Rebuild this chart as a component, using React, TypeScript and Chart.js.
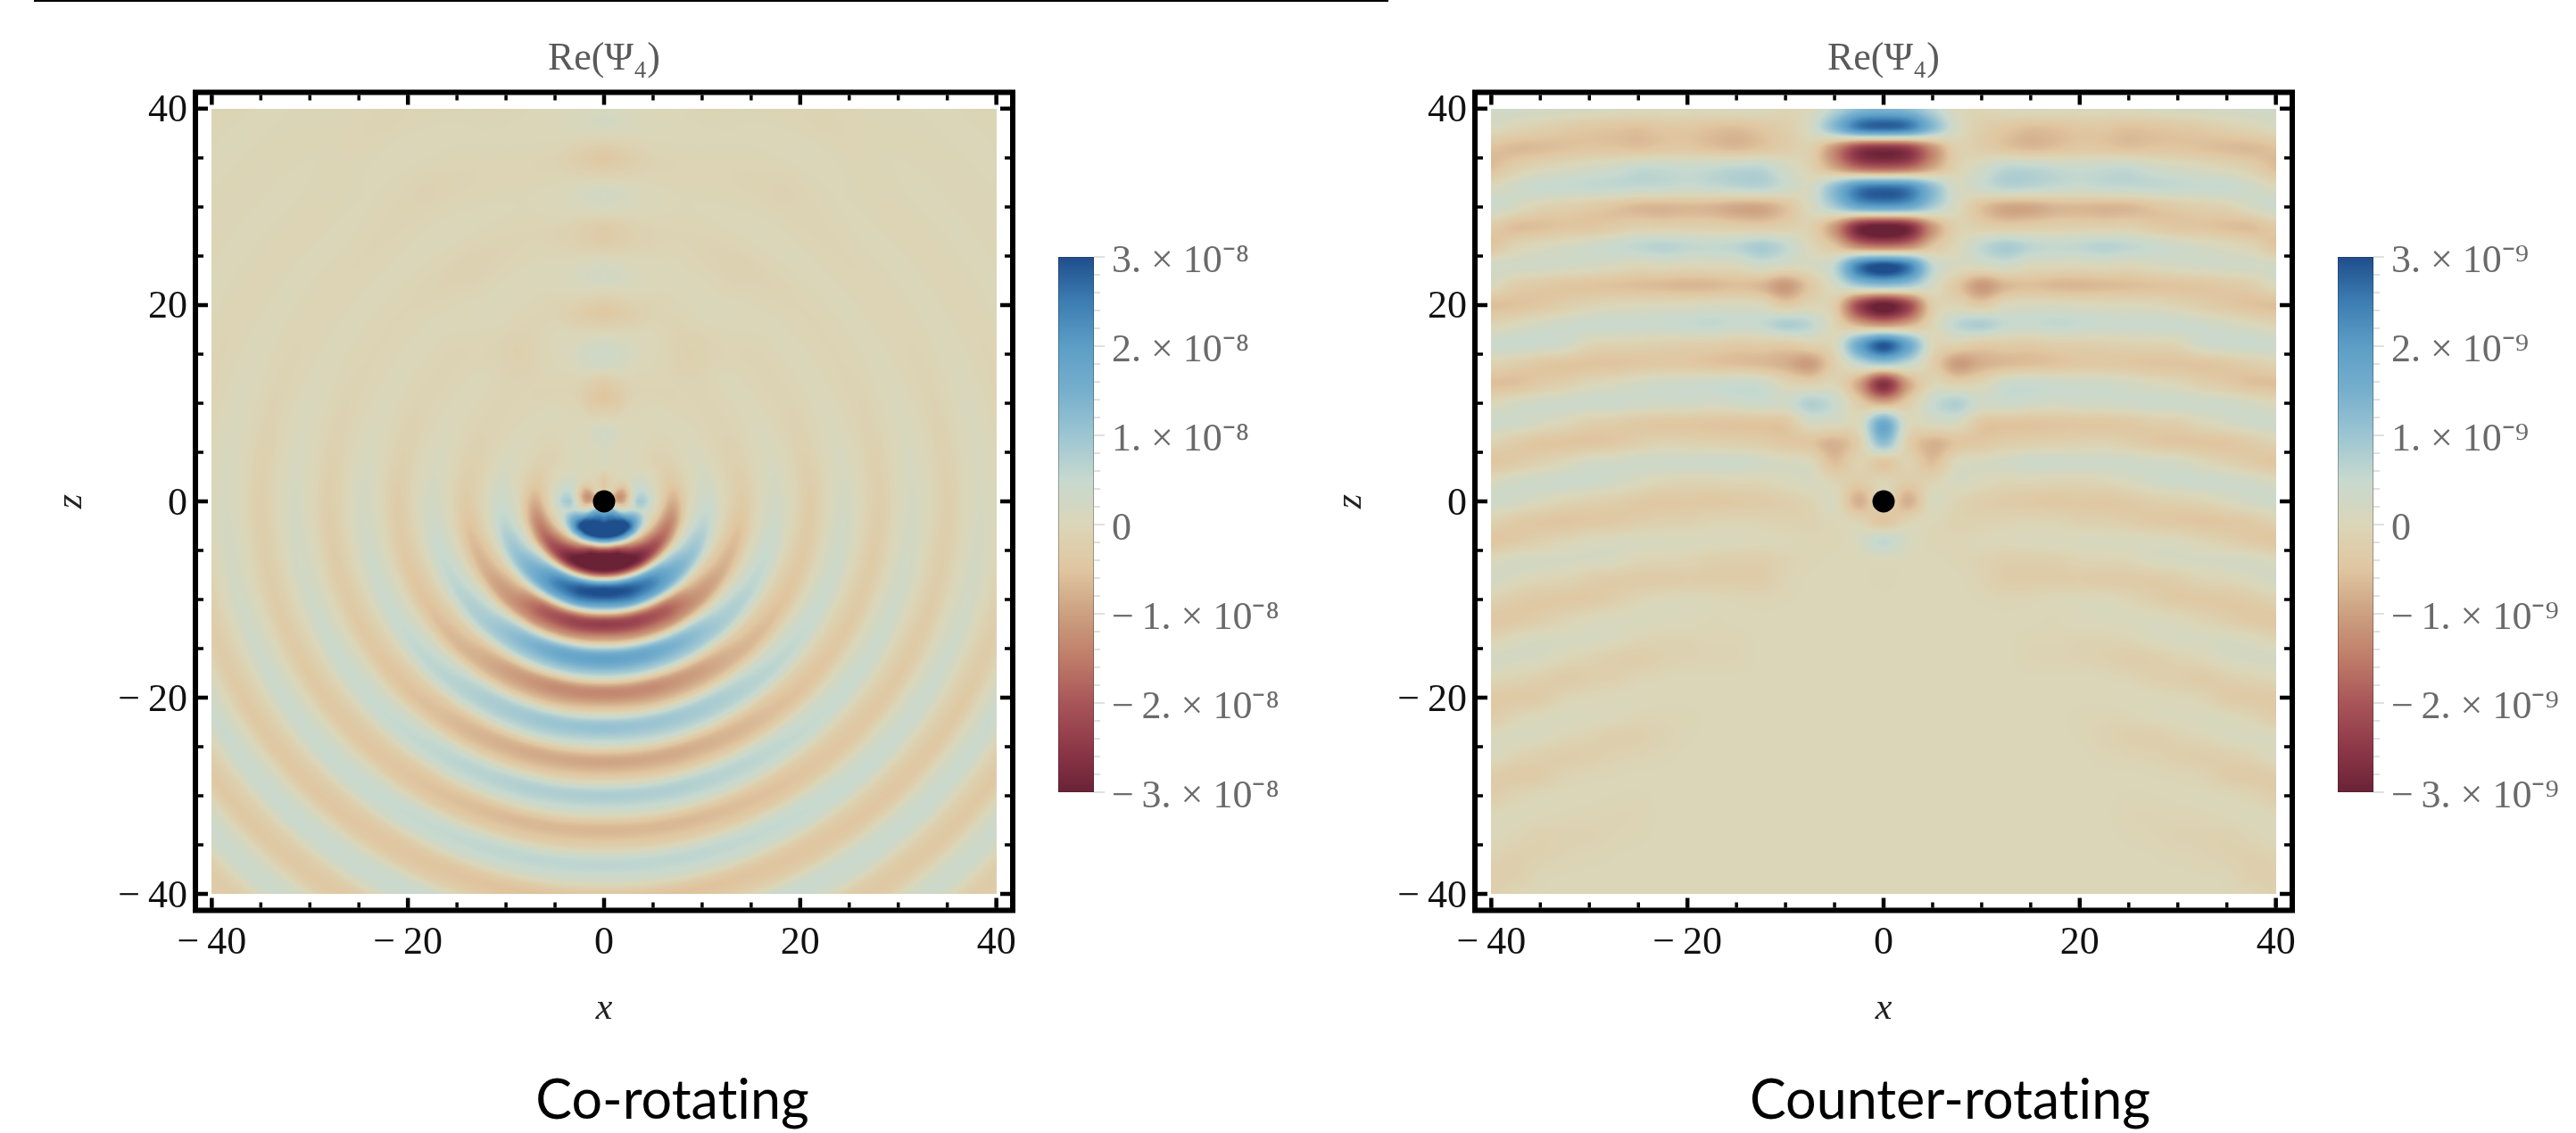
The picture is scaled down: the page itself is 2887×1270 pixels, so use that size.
import React, { useEffect, useRef } from "react";
import { Chart, registerables } from "chart.js";

Chart.register(...registerables);

/* All field values are in hundredths of one colour-bar unit. */
const axisTicks = [-40, -20, 0, 20, 40];
const axisMinorTicks = [-40, -35, -30, -25, -20, -15, -10, -5, 0, 5, 10, 15, 20, 25, 30, 35, 40];
const holePosition = [{ x: 0, y: 0 }];
const barTicks = [-3, -2, -1, 0, 1, 2, 3];
const barMinorTicks = [-2.8, -2.6, -2.4, -2.2, -1.8, -1.6, -1.4, -1.2, -0.8, -0.6, -0.4, -0.2, 0.2, 0.4, 0.6, 0.8, 1.2, 1.4, 1.6, 1.8, 2.2, 2.4, 2.6, 2.8];
const colourValues = [-3, -2.5, -2, -1.5, -1, -0.5, 0, 0.5, 1, 1.5, 2, 2.5, 3];
const colourStops = [[106, 34, 54], [142, 56, 72], [168, 85, 88], [191, 124, 104], [204, 160, 128], [224, 198, 160], [219, 214, 184], [199, 217, 207], [156, 197, 210], [118, 175, 205], [92, 158, 198], [60, 125, 178], [31, 78, 140]];

/* Co-rotating panel: samples along rays from the origin, every 1.75 units of radius. */
const rayStep = 1.75;
const rayAngles = [0, 15, 30, 45, 60, 75, 90, 105, 120, 135, 150, 165, 172, 180];
const ray000 = [0, 250, 320, -280, -300, 280, 190, -230, -100, 180, 90, -130, -55, 105, 50, -90, -40, 80, 35, -68, -30, 60, 28, -55, -25, 50, 22, -45, -20, 40, 18, -38, -16, 34];
const ray015 = [0, 260, 330, -260, -300, 250, 210, -210, -120, 165, 95, -120, -70, 92, 60, -80, -50, 70, 45, -62, -40, 55, 36, -50, -33, 45, 30, -40, -27, 36, 24, -33, -22, 30];
const ray030 = [0, 240, 330, -150, -280, 190, 190, -165, -130, 115, 95, -85, -72, 70, 62, -60, -55, 52, 48, -46, -44, 42, 40, -40, -38, 36, 34, -34, -32, 30, 28, -28, -26, 24];
const ray045 = [0, 180, 300, -70, -220, 95, 145, -65, -108, 50, 82, -38, -68, 35, 60, -30, -52, 28, 47, -26, -43, 25, 43, -25, -43, 25, 41, -24, -39, 22, 36, -20, -34, 18];
const ray060 = [0, 40, 170, -30, -170, 30, 105, -25, -80, 20, 62, -17, -52, 15, 46, -13, -42, 13, 40, -12, -40, 12, 40, -12, -41, 12, 41, -12, -40, 11, 38, -11, -36, 10];
const ray075 = [0, -30, 50, -10, -130, 8, 68, -6, -60, 5, 44, -4, -40, 4, 34, -3, -34, 3, 29, -3, -30, 3, 26, -3, -26, 2, 22, -2, -22, 2, 20, -2, -19, 2];
const ray090 = [0, -100, 90, 10, -80, 0, 38, 0, -34, 0, 24, 0, -32, 0, 21, 0, -26, 0, 18, 0, -23, 0, 15, 0, -19, 0, 14, 0, -15, 0, 11, 0, -11, 0];
const ray105 = [0, -120, 50, 10, -40, -5, 18, -5, -18, -3, 11, -3, -16, -3, 9, -3, -13, -2, 9, -2, -12, -2, 8, -2, -10, -2, 6, -2, -8, -2, 5, -2, -7, -2];
const ray120 = [0, -100, 25, 5, -18, -5, 8, -5, -10, -5, 5, -5, -9, -5, 4, -5, -8, -4, 3, -5, -7, -4, 3, -4, -6, -3, 2, -4, -5, -2, 1, -3, -4, 0];
const ray135 = [0, -40, 5, 0, -10, -5, 3, -5, -8, -6, 2, -5, -9, -5, 3, -4, -8, -4, 2, -5, -8, -3, 2, -5, -6, -2, 2, -4, -5, -2, 2, -3, -4, 0];
const ray150 = [0, -10, 5, 8, 5, 0, 3, -8, -8, -15, -20, -12, 0, 5, -3, -12, -14, -5, 3, -2, -10, -12, -6, 2, 0, -8, -10, -3, 0, -2, -6, -6, -2, 0];
const ray165 = [0, -20, 0, 5, 5, 0, -8, -8, 0, 5, 3, -8, -8, 0, 3, -3, -8, -5, -2, -5, -6, -3, 0, -3, -4, -2, 0];
const ray172 = [0, -30, 5, 10, 20, -10, -35, -15, 18, 18, -5, -25, -6, 10, 3, -12, -12, 2, 5, -4, -10, -3, 2, 0];
const ray180 = [0, -50, 5, 15, 25, -10, -50, -30, 25, 30, -10, -45, -10, 25, 10, -30, -30, 10, 25, -15, -45, -10, 20, 10];
const coRays = [ray000, ray015, ray030, ray045, ray060, ray075, ray090, ray105, ray120, ray135, ray150, ray165, ray172, ray180];

/* Counter-rotating panel: one list per x column, z from 40 down in steps of 2; the rest of each list is neutral. */
const columnStepX = 2.5;
const rowStepZ = 2;
const col00 = [140, 270, -260, -190, 260, 190, -310, -160, 310, 115, -310, -115, 290, 85, -265, -80, 165, 120, -45, -5, 0, -50, 55, 5, -3];
const col02 = [125, 245, -235, -170, 235, 170, -275, -135, 250, 90, -225, -80, 175, 50, -95, -30, 10, -25, -15, -30, -80, -10, 15];
const col05 = [65, 125, -120, -90, 120, 85, -110, -50, 60, 22, -30, -8, 5, -25, -5, 45, 15, -75, -60, -10, 10, 0, -5];
const col07 = [8, 20, -20, -15, 20, 12, -20, 0, 15, -45, -10, 60, -15, -105, -20, 75, 15, -50, 5, 15, -10, -15, -5, -5];
const col10 = [-5, -25, -30, 25, 40, -55, -25, 55, 15, -110, -35, 80, -35, -80, -5, 30, -45, -45, 15, 5, -25, -15, 0, -12, -10, -3];
const col12 = [10, -45, -50, 60, 65, -90, -35, 85, 30, -70, 5, 50, -30, -65, 38, 38, -50, -30, 25, -5, -33, -10, 3, -25, -30, -8];
const col15 = [15, -60, -65, 60, 60, -90, -30, 62, 5, -58, 12, 45, -35, -58, 45, 30, -52, -25, 36, -5, -38, -8, 8, -25, -30, -5, 0, -6, -8];
const col17 = [10, -55, -55, 50, 50, -72, -25, 52, 2, -68, 12, 55, -25, -52, 40, 22, -50, -22, 36, -8, -43, -10, 8, -22, -32, 0, -2, -6, -10];
const col20 = [10, -45, -42, 42, 42, -68, -22, 58, 0, -70, 8, 48, -22, -42, 34, 28, -45, -18, 34, -8, -40, -20, 10, -10, -30, 3, 5, -10, -12, 0, 0, -4, -3];
const col22 = [10, -45, -45, 48, 50, -72, -25, 68, 5, -65, 6, 44, -20, -42, 32, 28, -45, -14, 34, -4, -43, -22, 10, -8, -35, 3, 8, -10, -18, -2, 0, -7, -12, -5];
const col25 = [10, -55, -55, 50, 52, -68, -20, 58, -2, -60, 4, 42, -15, -45, 22, 32, -40, -26, 32, 10, -38, -30, 12, -5, -35, -8, 10, -6, -28, -8, 4, -7, -22, -10, 0, -3, -7, -4];
const col27 = [15, -50, -50, 30, 55, -50, -38, 45, 10, -55, 0, 42, -12, -52, 8, 38, -28, -42, 26, 26, -25, -40, 10, 12, -35, -25, 8, 8, -24, -20, 3, 3, -24, -14, -2, -2, -8, -8, -2];
const col30 = [20, -45, -48, 20, 52, -35, -48, 30, 20, -52, -12, 42, -5, -52, -2, 38, -22, -50, 22, 35, -18, -45, 5, 15, -26, -38, 2, 14, -12, -26, -2, 7, -14, -24, -5, 0, -6, -12, -6];
const col32 = [25, -35, -55, 8, 48, -22, -50, 18, 25, -48, -28, 34, 30, -50, -24, 36, 0, -50, 0, 38, -8, -50, -8, 18, -10, -40, -12, 14, -2, -33, -10, 10, -5, -28, -12, 2, -4, -14, -10, -2];
const col35 = [28, -20, -63, -5, 48, -12, -58, 5, 28, -38, -44, 22, 40, -42, -38, 32, 16, -48, -18, 36, 8, -45, -22, 20, -5, -40, -28, 14, 14, -22, -33, 5, 8, -22, -30, -2, 0, -16, -17, -5, -2];
const col37 = [30, -8, -65, -25, 30, 18, -60, -10, 26, -26, -54, 6, 44, -26, -56, 18, 32, -32, -36, 28, 25, -35, -38, 20, 8, -30, -42, 6, 18, -10, -38, -8, 12, -12, -36, -10, 3, -5, -20, -22, -8];
const col40 = [32, 10, -55, -60, 5, 40, -35, -50, 25, 8, -58, -10, 40, -12, -58, 0, 36, -12, -48, 10, 34, -15, -48, 5, 22, -15, -45, -12, 20, -3, -38, -30, 8, 8, -30, -28, 0, 3, -12, -26, -18];
const counterColumns = [col00, col02, col05, col07, col10, col12, col15, col17, col20, col22, col25, col27, col30, col32, col35, col37, col40];

const panelTitle = "Re(Ψ₄)";
const xAxisName = "x";
const zAxisName = "z";
const coName = "Co-rotating";
const counterName = "Counter-rotating";
const coExponent = "⁻⁸";
const counterExponent = "⁻⁹";

const serif = "'Liberation Serif', 'Times New Roman', serif";

const cubic = (a: number, b: number, c: number, d: number, t: number) =>
  0.5 * (2 * b + (c - a) * t + (2 * a - 5 * b + 4 * c - d) * t * t + (3 * b - a - 3 * c + d) * t * t * t);

function rayValue(ray: number[], r: number) {
  const u = r / rayStep;
  const k = Math.floor(u);
  const at = (i: number) => ray[Math.max(0, i)] ?? 0;
  return cubic(at(k - 1), at(k), at(k + 1), at(k + 2), u - k);
}

function coField(x: number, z: number) {
  const r = Math.hypot(x, z);
  const angle = (Math.atan2(Math.abs(x), -z) * 180) / Math.PI;
  let i = 0;
  while (i < rayAngles.length - 2 && rayAngles[i + 1] < angle) i++;
  const t = (angle - rayAngles[i]) / (rayAngles[i + 1] - rayAngles[i]);
  return (rayValue(coRays[i], r) * (1 - t) + rayValue(coRays[i + 1], r) * t) / 100;
}

function counterField(x: number, z: number) {
  const u = Math.abs(x) / columnStepX;
  const v = (40 - z) / rowStepZ;
  const i = Math.min(Math.floor(u), counterColumns.length - 1);
  const j = Math.floor(v);
  const cell = (c: number, w: number) => {
    const col = counterColumns[Math.min(Math.abs(c), counterColumns.length - 1)];
    return col[Math.max(0, w)] ?? 0;
  };
  const row = (c: number) => cubic(cell(c, j - 1), cell(c, j), cell(c, j + 1), cell(c, j + 2), v - j);
  return cubic(row(i - 1), row(i), row(i + 1), row(i + 2), u - i) / 100;
}

function colourOf(v: number) {
  const c = Math.max(-3, Math.min(3, v));
  const p = Math.min(colourValues.length - 2, Math.floor((c + 3) / 0.5));
  const t = (c - colourValues[p]) / 0.5;
  const a = colourStops[p];
  const b = colourStops[p + 1];
  return [a[0] + (b[0] - a[0]) * t, a[1] + (b[1] - a[1]) * t, a[2] + (b[2] - a[2]) * t];
}

const heatPlugin = (field: (x: number, z: number) => number) => ({
  id: "heat",
  beforeDatasetsDraw(chart: any) {
    const { x: sx, y: sy } = chart.scales;
    const left = Math.round(sx.getPixelForValue(-40));
    const right = Math.round(sx.getPixelForValue(40));
    const top = Math.round(sy.getPixelForValue(40));
    const bottom = Math.round(sy.getPixelForValue(-40));
    const w = right - left;
    const h = bottom - top;
    const img = chart.ctx.createImageData(w, h);
    for (let py = 0; py < h; py++) {
      const z = sy.getValueForPixel(top + py + 0.5);
      for (let px = 0; px < w; px++) {
        const x = sx.getValueForPixel(left + px + 0.5);
        const c = colourOf(field(x, z));
        const o = (py * w + px) * 4;
        img.data[o] = c[0];
        img.data[o + 1] = c[1];
        img.data[o + 2] = c[2];
        img.data[o + 3] = 255;
      }
    }
    chart.ctx.putImageData(img, left, top);
  },
});

const framePlugin = {
  id: "frame",
  afterDatasetsDraw(chart: any) {
    const { ctx, chartArea: a } = chart;
    const { x: sx, y: sy } = chart.scales;
    ctx.save();
    ctx.strokeStyle = "#000";
    ctx.lineWidth = 6;
    ctx.strokeRect(a.left, a.top, a.right - a.left, a.bottom - a.top);
    const mark = (v: number, len: number, width: number) => {
      ctx.lineWidth = width;
      const px = sx.getPixelForValue(v);
      const py = sy.getPixelForValue(v);
      ctx.beginPath();
      ctx.moveTo(px, a.top + 3);
      ctx.lineTo(px, a.top + 3 + len);
      ctx.moveTo(px, a.bottom - 3);
      ctx.lineTo(px, a.bottom - 3 - len);
      ctx.moveTo(a.left + 3, py);
      ctx.lineTo(a.left + 3 + len, py);
      ctx.moveTo(a.right - 3, py);
      ctx.lineTo(a.right - 3 - len, py);
      ctx.stroke();
    };
    axisMinorTicks.forEach((v) => mark(v, 6, 3.5));
    axisTicks.forEach((v) => mark(v, 11, 4.5));
    ctx.restore();
  },
};

/* The panel name sits under the whole panel-and-colour-bar group, not under the plot alone. */
const namePlugin = (shift: number) => ({
  id: "nameShift",
  beforeDraw(chart: any) {
    chart.ctx.letterSpacing = "0.01px";
  },
  afterLayout(chart: any) {
    const box = chart.boxes.find((b: any) => b.options && b.options.position === "bottom" && typeof b.options.text === "string");
    if (box) {
      box.left += shift;
      box.right += shift;
    }
  },
});

const barPlugin = {
  id: "bar",
  beforeDatasetsDraw(chart: any) {
    const { ctx, chartArea: a } = chart;
    const sy = chart.scales.y;
    for (let py = Math.round(a.top); py < Math.round(a.bottom); py++) {
      const c = colourOf(sy.getValueForPixel(py + 0.5));
      ctx.fillStyle = `rgb(${c[0]},${c[1]},${c[2]})`;
      ctx.fillRect(a.left, py, a.right - a.left, 1);
    }
    ctx.save();
    ctx.strokeStyle = "rgba(40,40,40,0.35)";
    ctx.lineWidth = 1;
    ctx.strokeRect(a.left + 0.5, a.top + 0.5, a.right - a.left - 1, a.bottom - a.top - 1);
    ctx.strokeStyle = "#d6d6d6";
    ctx.lineWidth = 1.5;
    const mark = (v: number, len: number) => {
      const py = sy.getPixelForValue(v);
      ctx.beginPath();
      ctx.moveTo(a.right, py);
      ctx.lineTo(a.right + len, py);
      ctx.stroke();
    };
    barMinorTicks.forEach((v) => mark(v, 7));
    barTicks.forEach((v) => mark(v, 12));
    ctx.restore();
  },
};

const tickText = (v: number) => (v < 0 ? `\u2212\u2009${-v}` : `${v}`);

function makePanel(canvas: HTMLCanvasElement, field: (x: number, z: number) => number, name: string, shift: number) {
  return new Chart(canvas, {
    type: "scatter",
    data: { datasets: [{ data: holePosition, pointRadius: 12.5, backgroundColor: "#000", borderWidth: 0 }] },
    options: {
      responsive: false,
      animation: false,
      layout: { padding: { left: 0, right: 371, top: 0, bottom: 0 } },
      plugins: {
        legend: { display: false },
        tooltip: { enabled: false },
        title: {
          display: true,
          text: panelTitle,
          fullSize: false,
          color: "#5a5a5a",
          font: { family: serif, size: 44, weight: "normal" },
          padding: { top: 40, bottom: 10.7 },
        },
        subtitle: {
          display: true,
          position: "bottom",
          text: name,
          color: "#000",
          font: { family: "Lato", size: 61, weight: "normal", lineHeight: 1.05 },
          padding: { top: 4, bottom: 4 },
        },
      },
      scales: {
        x: {
          type: "linear",
          min: -41.67,
          max: 41.67,
          afterBuildTicks: (s: any) => { s.ticks = axisTicks.map((value) => ({ value })); },
          afterFit: (s: any) => { s.height = 177.5; },
          grid: { display: false, drawTicks: false },
          border: { display: false },
          ticks: { autoSkip: false, maxRotation: 0, minRotation: 0, padding: 11, color: "#111", font: { family: serif, size: 44 }, callback: (v: any) => tickText(v) },
          title: { display: true, text: xAxisName, color: "#222", font: { family: serif, size: 42, style: "italic" }, padding: { top: 0, bottom: 41.6 } },
        },
        y: {
          type: "linear",
          min: -41.67,
          max: 41.67,
          afterBuildTicks: (s: any) => { s.ticks = axisTicks.map((value) => ({ value })); },
          afterFit: (s: any) => { s.width = 219; },
          grid: { display: false, drawTicks: false },
          border: { display: false },
          ticks: { autoSkip: false, maxRotation: 0, minRotation: 0, padding: 9, labelOffset: 3, color: "#111", font: { family: serif, size: 44 }, callback: (v: any) => tickText(v) },
          title: { display: true, text: zAxisName, color: "#222", font: { family: serif, size: 42, style: "italic" }, padding: { top: 54.6, bottom: 0 } },
        },
      },
    } as any,
    plugins: [namePlugin(shift), heatPlugin(field), framePlugin] as any,
  });
}

function makeBar(canvas: HTMLCanvasElement, exponent: string) {
  return new Chart(canvas, {
    type: "scatter",
    data: { datasets: [{ data: [] }] },
    options: {
      responsive: false,
      animation: false,
      layout: { padding: { left: 16, right: 0, top: 288, bottom: 382 } },
      plugins: { legend: { display: false }, tooltip: { enabled: false } },
      scales: {
        x: { display: false, min: 0, max: 1 },
        y: {
          type: "linear",
          position: "right",
          min: -3,
          max: 3,
          afterBuildTicks: (s: any) => { s.ticks = barTicks.map((value) => ({ value })); },
          afterFit: (s: any) => { s.width = 227; },
          grid: { display: false, drawTicks: false },
          border: { display: false },
          ticks: {
            autoSkip: false,
            padding: 20,
            labelOffset: 5,
            color: "#6a6a6a",
            font: { family: serif, size: 44 },
            callback: (v: any) => (v === 0 ? "0" : `${v < 0 ? "\u2212\u2009" : ""}${Math.abs(v)}. × 10${exponent}`),
          },
        },
      },
    } as any,
    plugins: [barPlugin] as any,
  });
}

const place = (left: number): React.CSSProperties => ({ position: "absolute", left, top: 0, display: "block" });

export default function App() {
  const coRef = useRef<HTMLCanvasElement>(null);
  const counterRef = useRef<HTMLCanvasElement>(null);
  const coBarRef = useRef<HTMLCanvasElement>(null);
  const counterBarRef = useRef<HTMLCanvasElement>(null);

  useEffect(() => {
    const charts = [
      makePanel(coRef.current!, coField, coName, 186),
      makePanel(counterRef.current!, counterField, counterName, 184),
      makeBar(coBarRef.current!, coExponent),
      makeBar(counterBarRef.current!, counterExponent),
    ];
    return () => charts.forEach((c) => c.destroy());
  }, []);

  return (
    <div style={{ position: "absolute", left: 0, top: 0, width: 2887, height: 1270, overflow: "hidden", background: "#fff" }}>
      <div style={{ position: "absolute", left: 38, top: 0, width: 1518, height: 2, background: "#000" }} />
      <canvas ref={coRef} width={1506} height={1270} style={place(0)} />
      <canvas ref={counterRef} width={1506} height={1270} style={place(1434)} />
      <canvas ref={coBarRef} width={283} height={1270} style={place(1170)} />
      <canvas ref={counterBarRef} width={283} height={1270} style={place(2604)} />
    </div>
  );
}
